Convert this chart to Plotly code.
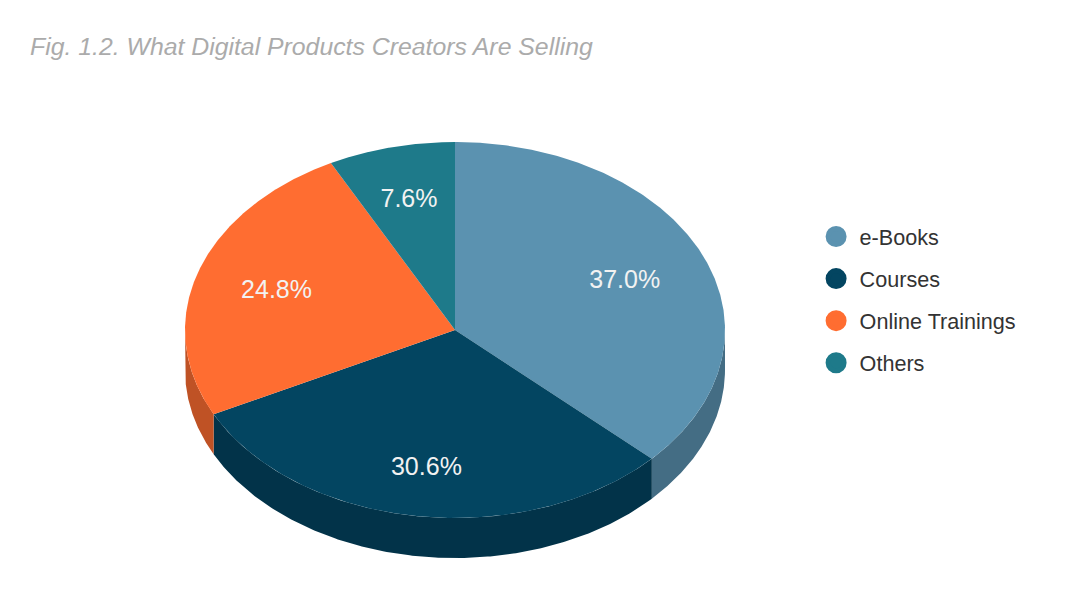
import numpy as np
import plotly.graph_objects as go

categories = ["e-Books", "Courses", "Online Trainings", "Others"]
values = [37.0, 30.6, 24.8, 7.6]
top_colors = ["#5B92B0", "#034561", "#FF6D31", "#1E7A8A"]
side_colors = ["#446D84", "#023349", "#BF5225", "#1A5F6C"]
title_text = "Fig. 1.2. What Digital Products Creators Are Selling"

# Pie geometry on a pixel-like axis
CX, CY, RX, RY, DEPTH = 455, 330, 270, 188, 40
LABEL_K = [0.685, 0.735, 0.695, 0.72]
LABEL_DY = 2.5
PAGE_OFFSET = 8  # body margin of the page

def ell(t):
    return CX + RX * np.sin(t), CY - RY * np.cos(t)

fracs = np.array(values) / sum(values)
edges = np.concatenate([[0], np.cumsum(fracs)]) * 2 * np.pi

fig = go.Figure()

# Side walls: only the portion of the rim on the front half (pi/2 .. 3pi/2)
for i in range(len(values)):
    a = max(edges[i], np.pi / 2)
    b = min(edges[i + 1], 3 * np.pi / 2)
    if b <= a:
        continue
    t = np.linspace(a, b, 200)
    x, y = ell(t)
    xs = np.concatenate([x, x[::-1]])
    ys = np.concatenate([y, y[::-1] + DEPTH])
    fig.add_trace(go.Scatter(x=xs, y=ys, mode="lines", fill="toself",
                             fillcolor=side_colors[i], line=dict(width=0),
                             showlegend=False, hoverinfo="skip"))

# Top face
for i in range(len(values)):
    t = np.linspace(edges[i], edges[i + 1], 300)
    x, y = ell(t)
    xs = np.concatenate([[CX], x, [CX]])
    ys = np.concatenate([[CY], y, [CY]])
    fig.add_trace(go.Scatter(x=xs, y=ys, mode="lines", fill="toself",
                             fillcolor=top_colors[i], line=dict(width=0),
                             showlegend=False, hoverinfo="skip"))

# Percent labels
mids = (edges[:-1] + edges[1:]) / 2
k = np.array(LABEL_K)
fig.add_trace(go.Scatter(
    x=CX + k * RX * np.sin(mids),
    y=CY - k * RY * np.cos(mids) + LABEL_DY,
    mode="text",
    text=[f"{v:.1f}%" for v in values],
    textposition="middle center",
    textfont=dict(family="Liberation Sans", size=25, color="#F2F2F2"),
    showlegend=False, hoverinfo="skip"))

# Legend entries
for i, c in enumerate(categories):
    fig.add_trace(go.Scatter(x=[None], y=[None], mode="markers", name=c,
                             legendgroup=c,
                             marker=dict(symbol="circle", size=16, color=top_colors[i],
                                         line=dict(width=5, color=top_colors[i]))))

fig.update_layout(
    width=1080, height=600,
    margin=dict(l=0, r=0, t=0, b=0),
    paper_bgcolor="white", plot_bgcolor="white",
    xaxis=dict(range=[PAGE_OFFSET, 1080 + PAGE_OFFSET], visible=False, fixedrange=True),
    yaxis=dict(range=[600 + PAGE_OFFSET, PAGE_OFFSET], visible=False, fixedrange=True),
    legend=dict(x=837 / 1080 - 0.03, y=1 - 208 / 600, xanchor="left", yanchor="top",
                font=dict(family="Liberation Sans", size=21.6, color="#333333"),
                itemsizing="trace", itemwidth=37, tracegroupgap=11, bgcolor="rgba(0,0,0,0)"),
    annotations=[dict(text=f"<i>{title_text}</i>", x=20 / 1080, y=1 - 39 / 600,
                      xref="paper", yref="paper", xanchor="left", yanchor="middle",
                      showarrow=False,
                      font=dict(family="Liberation Sans", size=24.8, color="#ABABAB"))],
)
fig.write_html("out.html", config=dict(displayModeBar=False))
